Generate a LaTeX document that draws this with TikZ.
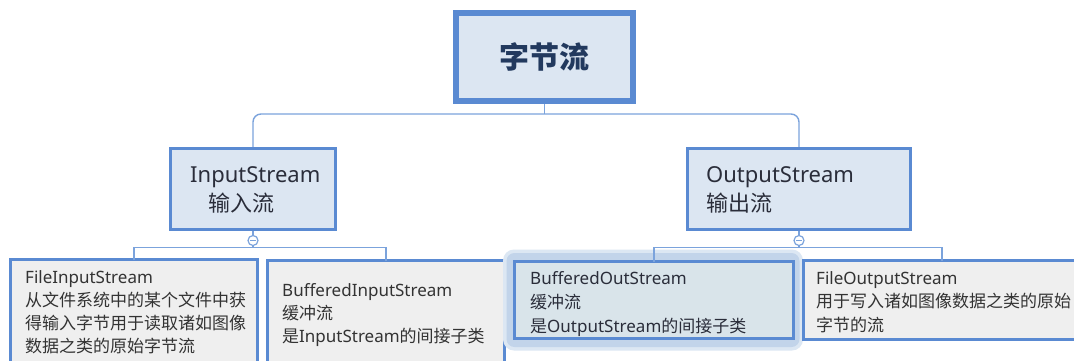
\documentclass[tikz,border=0pt]{standalone}
\usepackage{fontspec}
\setmainfont{Noto Sans CJK SC}
\newfontfamily\en{Noto Sans}
\definecolor{bord}{HTML}{5A8AD2}
\definecolor{conn}{HTML}{7BA3DC}
\definecolor{midfill}{HTML}{DCE6F2}
\definecolor{leaffill}{HTML}{EFEFEF}
\definecolor{selfill}{HTML}{D9E4EA}
\definecolor{glowA}{HTML}{DCE7F3}
\definecolor{glowB}{HTML}{C2D4EA}
\definecolor{titletext}{HTML}{22395E}
\definecolor{midtext}{HTML}{2A2D3A}
\definecolor{leaftext}{HTML}{333333}
\tikzset{
  box/.style={draw=bord, rectangle, anchor=north west, outer sep=0pt, inner sep=0pt},
  rootbox/.style={box, line width=6pt, fill=midfill},
  midbox/.style={box, line width=3pt, fill=midfill},
  leafbox/.style={box, line width=3pt, fill=leaffill},
  selbox/.style={box, line width=3pt, fill=selfill},
  midtxt/.style={anchor=base west, inner sep=0pt, align=left, text=midtext, font=\fontsize{22}{29.5}\selectfont},
  leaftxt/.style={anchor=base west, inner sep=0pt, align=left, text=leaftext, font=\fontsize{17}{23}\selectfont},
  wire/.style={draw=conn, line width=1.4pt},
  toggle/.style={circle, draw=conn, line width=1.2pt, fill=white, minimum size=10pt, inner sep=0pt, outer sep=0pt}
}
\begin{document}
\begin{tikzpicture}[x=1pt,y=-1pt]
\useasboundingbox (0,0) rectangle (1074,360);
\fill[white] (0,0) rectangle (1074,360);
\clip (0,0) rectangle (1074,360);

% boxes
\node[rootbox, minimum width=177pt, minimum height=88pt, text=titletext, font=\bfseries\fontsize{30}{36}\selectfont] (root) at (456,13) {字节流};
\node[midbox, minimum width=165pt, minimum height=81pt] (in) at (170.5,148.5) {};
\node[midbox, minimum width=223pt, minimum height=81pt] (out) at (687.5,148.5) {};

\node[leafbox, minimum width=247pt, minimum height=140pt] (fis) at (10.5,259.5) {};
\node[leafbox, minimum width=237pt, minimum height=140pt] (bis) at (267.5,260.5) {};
\fill[glowA, rounded corners=11pt] (503,249.5) rectangle (803,350.5);
\fill[glowB, rounded corners=8pt] (506.5,253) rectangle (799.5,347);
\node[selbox, minimum width=279pt, minimum height=77pt] (bos) at (514.5,261.5) {};
\node[leafbox, minimum width=277pt, minimum height=79pt] (fos) at (803.5,260.5) {};

% connectors
\coordinate (bus) at (root.south |- 0,114);
\draw[wire] (root.south) -- (bus);
\draw[wire, rounded corners=8pt] (in.north) |- (bus) -| (out.north);

\node[toggle] (itog) at (in.south |- 0,240.5) {};
\node[toggle] (otog) at (out.south |- 0,240.5) {};
\draw[wire] (in.south) -- (itog.north);
\draw[wire] (out.south) -- (otog.north);
\coordinate (ibus) at (in.south |- 0,247.5);
\coordinate (obus) at (out.south |- 0,247.5);
\draw[wire] (itog.south) -- (ibus);
\draw[wire] (otog.south) -- (obus);
\draw[wire] (fis.north) |- (ibus) -| (bis.north);
\draw[wire] (bos.north) |- (obus) -| (fos.north);
\draw[conn, line width=1.2pt] ([xshift=-3pt]itog.center) -- ([xshift=3pt]itog.center);
\draw[conn, line width=1.2pt] ([xshift=-3pt]otog.center) -- ([xshift=3pt]otog.center);

% redraw box borders over wires
\draw[bord, line width=3pt] (in.north west) rectangle (in.south east);
\draw[bord, line width=3pt] (out.north west) rectangle (out.south east);
\draw[bord, line width=6pt] (root.north west) rectangle (root.south east);

% texts (anchor = baseline of the last line)
\node[midtxt] (intxt) at (190,211.5) {{\en InputStream}\\\hspace*{18pt}输入流};
\node[midtxt] (outtxt) at (706,211.5) {{\en OutputStream}\\输出流};
\node[leaftxt, font=\fontsize{17}{22.7}\selectfont] (fistxt) at (25,352) {{\en FileInputStream}\\从文件系统中的某个文件中获\\得输入字节用于读取诸如图像\\数据之类的原始字节流};
\node[leaftxt] (bistxt) at (282,342.5) {{\en BufferedInputStream}\\缓冲流\\是{\en InputStream}的间接子类};
\node[leaftxt, text=midtext, font=\fontsize{17}{24}\selectfont] (bostxt) at (530,332) {{\en BufferedOutStream}\\缓冲流\\是{\en OutputStream}的间接子类};
\node[leaftxt, font=\fontsize{17}{23.5}\selectfont] (fostxt) at (816,331) {{\en FileOutputStream}\\用于写入诸如图像数据之类的原始\\字节的流};
\end{tikzpicture}
\end{document}
